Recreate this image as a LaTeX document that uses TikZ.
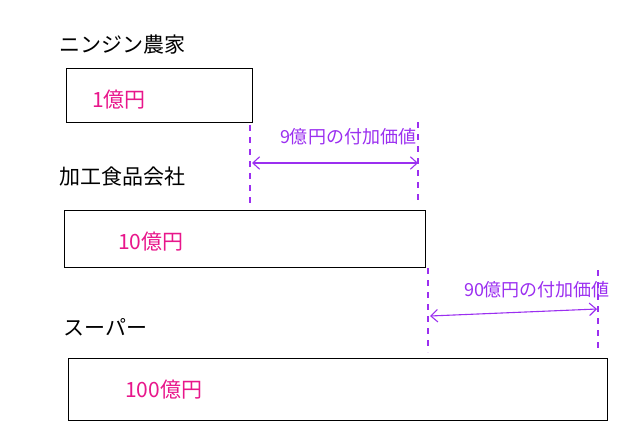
\documentclass[tikz,border=0pt]{standalone}
\usepackage{fontspec}
\setmainfont{Noto Sans CJK JP}
\usepackage{xcolor}
\usetikzlibrary{arrows.meta,positioning}
\definecolor{yenpink}{HTML}{E8168B}
\definecolor{addpurple}{HTML}{9B2FF0}
\tikzset{
  stageBox/.style={draw=black, line width=1.4pt, anchor=north west, inner sep=0pt},
  stageLabel/.style={anchor=west, font=\fontsize{21}{23}\selectfont},
  yenText/.style={text=yenpink, anchor=west, inner sep=0pt, font=\fontsize{21}{23}\selectfont},
  guideLine/.style={draw=addpurple, line width=1.1pt, dash pattern=on 6pt off 6pt},
  valueArrow/.style={{Straight Barb[length=2.4mm,width=4.4mm]}-{Straight Barb[length=2.4mm,width=4.4mm]}, draw=addpurple, line width=1.1pt},
  valueLabel/.style={text=addpurple, font=\fontsize{18}{20}\selectfont}
}

\begin{document}
\begin{tikzpicture}[x=1pt,y=-1pt]
  \useasboundingbox (0,0) rectangle (620,445);
  % stages
  \node[stageLabel] (farmname) at (56,45) {ニンジン農家};
  \node[stageBox, minimum width=186pt, minimum height=54pt] (farm) at (66,68) {};
  \node[yenText, right=26pt of farm.west, yshift=-4pt] (farmyen) {1億円};

  \node[stageLabel] (procname) at (56,177) {加工食品会社};
  \node[stageBox, minimum width=361pt, minimum height=57pt] (proc) at (64,210) {};
  \node[yenText, right=54pt of proc.west, yshift=-2pt] (procyen) {10億円};

  \node[stageLabel] (supername) at (60,327) {スーパー};
  \node[stageBox, minimum width=539pt, minimum height=62pt] (super) at (68,358) {};
  \node[yenText, right=57pt of super.west] (superyen) {100億円};

  % added value, farm -> processor
  \coordinate (g1lt) at (250,125);
  \coordinate (g1lb) at (250,205);
  \coordinate (g1rt) at (418,122);
  \coordinate (g1rb) at (418,205);
  \draw[guideLine] (g1lt) -- (g1lb);
  \draw[guideLine] (g1rt) -- (g1rb);
  \coordinate (a1l) at (252,163);
  \coordinate (a1r) at (418,163);
  \draw[valueArrow] (a1l) -- (a1r);
  \node[valueLabel] (gain1) at (348,137) {9億円の付加価値};

  % added value, processor -> super
  \coordinate (g2lt) at (428,268);
  \coordinate (g2lb) at (428,352);
  \coordinate (g2rt) at (598,270);
  \coordinate (g2rb) at (598,352);
  \draw[guideLine] (g2lt) -- (g2lb);
  \draw[guideLine] (g2rt) -- (g2rb);
  \coordinate (a2l) at (430,316);
  \coordinate (a2r) at (597,309);
  \draw[valueArrow] (a2l) -- (a2r);
  \node[valueLabel] (gain2) at (537,290) {90億円の付加価値};
\end{tikzpicture}
\end{document}
